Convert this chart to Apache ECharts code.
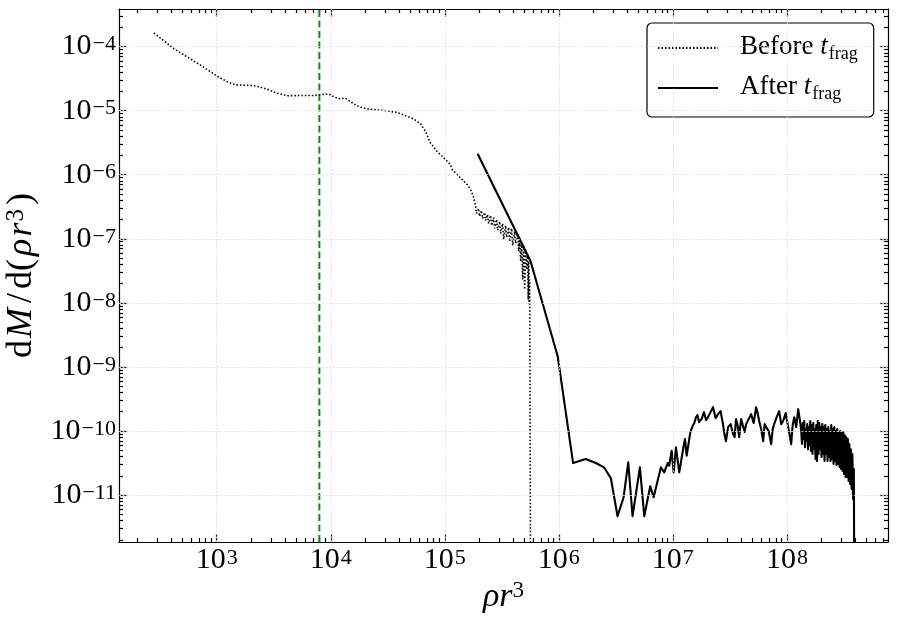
<!DOCTYPE html>
<html>
<head>
<meta charset="utf-8">
<script src="https://cdn.jsdelivr.net/npm/echarts@6/dist/echarts.min.js"></script>
<style>
  html, body { margin: 0; padding: 0; background: #fff; }
  #chart { width: 897px; height: 621px; }
</style>
</head>
<body>
<div id="chart"></div>
<script>
// [rho r^3, dM/d(rho r^3)] before t_frag (dotted)
var beforeFrag = [
  [281, 1.63e-4], [416, 9.4e-5], [713, 5.19e-5], [1000, 3.5e-5], [1224, 2.85e-5],
  [1449, 2.53e-5], [2099, 2.47e-5], [2400, 2.33e-5], [2748, 2.17e-5], [3365, 1.88e-5],
  [4121, 1.71e-5], [5395, 1.72e-5], [7063, 1.72e-5], [8090, 1.77e-5], [9572, 1.82e-5],
  [10590, 1.66e-5], [11720, 1.53e-5], [13400, 1.57e-5], [14830, 1.39e-5], [16980, 1.19e-5],
  [20790, 1.06e-5], [29120, 1.01e-5], [38170, 9.37e-6], [45180, 8.34e-6], [53460, 7.4e-6],
  [61150, 6.25e-6], [67640, 4.75e-6], [74800, 3.13e-6], [85620, 2.31e-6], [97980, 1.83e-6],
  [112200, 1.44e-6], [116100, 1.2e-6], [142200, 8.4e-7], [157400, 7.02e-7], [168300, 5.86e-7],
  [177700, 4.61e-7],
  [1.862e5, 3.30e-7], [1.900e5, 2.48e-7], [1.978e5, 2.96e-7], [2.018e5, 2.23e-7],
  [2.101e5, 2.76e-7], [2.144e5, 2.07e-7], [2.233e5, 2.57e-7], [2.278e5, 1.93e-7],
  [2.373e5, 2.39e-7], [2.421e5, 1.73e-7], [2.521e5, 2.31e-7], [2.573e5, 1.61e-7],
  [2.679e5, 2.15e-7], [2.734e5, 1.45e-7], [2.847e5, 2.00e-7], [2.905e5, 1.35e-7],
  [3.025e5, 1.86e-7], [3.087e5, 1.21e-7], [3.214e5, 1.73e-7], [3.280e5, 9.75e-8],
  [3.415e5, 1.61e-7], [3.485e5, 1.05e-7], [3.629e5, 1.50e-7], [3.703e5, 9.08e-8],
  [3.856e5, 1.45e-7], [3.935e5, 7.86e-8], [4.097e5, 1.30e-7], [4.181e5, 8.45e-8],
  [4.354e5, 1.21e-7], [4.443e5, 6.34e-8], [4.534e5, 1.05e-7], [4.627e5, 4.43e-8],
  [4.721e5, 9.08e-8], [4.818e5, 2.32e-8], [4.917e5, 7.86e-8], [5.017e5, 1.62e-8],
  [5.120e5, 6.81e-8], [5.224e5, 3.32e-8], [5.331e5, 5.69e-8], [5.385e5, 1.13e-8],
  [5.440e5, 4.43e-8], [5.495e5, 9.48e-9], [5.551e5, 2.32e-8], [5.665e5, 1e-13]
];

// after t_frag (solid)
var afterFrag = [
  [1.94e5, 2.13e-6], [5.66e5, 4.43e-8], [9.77e5, 1.47e-9], [1.334e6, 3.16e-11],
  [1.72e6, 3.65e-11], [2.11e6, 3.16e-11], [2.49e6, 2.71e-11], [2.86e6, 1.83e-11],
  [3.27e6, 4.68e-12], [3.70e6, 9.24e-12], [4.06e6, 3.24e-11], [4.43e6, 4.68e-12],
  [5.14e6, 2.71e-11], [5.61e6, 4.68e-12], [6.33e6, 1.37e-11], [6.78e6, 9.24e-12],
  [7.86e6, 2.71e-11], [8.40e6, 2.26e-11], [9.0e6, 3.16e-11], [9.29e6, 2.87e-11],
  [9.75e6, 4.92e-11], [1.016e7, 2.26e-11], [1.064e7, 5.56e-11], [1.137e7, 2.26e-11],
  [1.244e7, 5.88e-11], [1.277e7, 7.48e-11], [1.321e7, 4.11e-11], [1.422e7, 9.5e-11],
  [1.492e7, 1.205e-10], [1.542e7, 1.33e-10], [1.596e7, 1.63e-10], [1.645e7, 1.77e-10],
  [1.695e7, 1.38e-10], [1.784e7, 1.53e-10], [1.875e7, 1.97e-10], [1.954e7, 1.48e-10],
  [2.03e7, 1.64e-10], [2.140e7, 1.97e-10], [2.25e7, 2.35e-10], [2.368e7, 1.59e-10],
  [2.49e7, 1.83e-10], [2.620e7, 2.04e-10], [2.75e7, 1.28e-10], [2.841e7, 8.63e-11],
  [2.92e7, 6.95e-11], [3.05e7, 1.15e-10], [3.208e7, 1.28e-10], [3.37e7, 8.95e-11],
  [3.478e7, 8.04e-11], [3.58e7, 1.53e-10], [3.695e7, 1.24e-10], [3.81e7, 8.04e-11],
  [3.967e7, 1.53e-10], [4.13e7, 1.43e-10], [4.259e7, 9.62e-11], [4.39e7, 1.28e-10],
  [4.617e7, 1.53e-10], [4.86e7, 1.83e-10], [5.109e7, 1.33e-10], [5.37e7, 2.35e-10],
  [5.539e7, 1.90e-10], [5.71e7, 1.43e-10], [5.946e7, 1.07e-10], [6.19e7, 6.95e-11],
  [6.383e7, 1.28e-10], [6.58e7, 1.15e-10], [6.920e7, 1.0e-10], [7.28e7, 6.24e-11],
  [7.504e7, 1.07e-10], [7.73e7, 1.28e-10], [8.137e7, 1.64e-10], [8.55e7, 2.04e-10],
  [8.913e7, 1.28e-10], [9.27e7, 1.43e-10], [9.761e7, 1.90e-10], [1.026e8, 1.15e-10],
  [1.058e8, 8.63e-11], [1.09e8, 6.24e-11], [1.124e8, 1.24e-10], [1.16e8, 1.64e-10],
  [1.207e8, 1.15e-10], [1.256e8, 2.19e-10], [1.296e8, 1.53e-10],
  [1.336e8, 1.0e-10], [1.356e8, 6.25e-11], [1.377e8, 1.33e-10], [1.398e8, 7.5e-11],
  [1.419e8, 1.43e-10], [1.441e8, 5.6e-11], [1.463e8, 1.07e-10], [1.485e8, 6.96e-11],
  [1.508e8, 1.28e-10], [1.531e8, 5.2e-11], [1.555e8, 1.15e-10], [1.579e8, 6.0e-11],
  [1.603e8, 1.43e-10], [1.627e8, 4.86e-11], [1.652e8, 1.24e-10], [1.677e8, 4.37e-11],
  [1.703e8, 1.33e-10], [1.729e8, 5.2e-11], [1.755e8, 1.07e-10], [1.782e8, 3.65e-11],
  [1.809e8, 1.24e-10], [1.837e8, 3.4e-11], [1.865e8, 1.43e-10], [1.893e8, 4.37e-11],
  [1.922e8, 1.33e-10], [1.952e8, 5.2e-11], [1.982e8, 1.15e-10], [2.012e8, 3.92e-11],
  [2.043e8, 1.28e-10], [2.074e8, 4.37e-11], [2.106e8, 1.15e-10], [2.138e8, 3.4e-11],
  [2.171e8, 1.24e-10], [2.204e8, 4.37e-11], [2.237e8, 1.07e-10], [2.272e8, 3.4e-11],
  [2.306e8, 1.15e-10], [2.342e8, 3.92e-11], [2.378e8, 1.0e-10], [2.414e8, 3.4e-11],
  [2.451e8, 1.24e-10], [2.488e8, 3.65e-11], [2.526e8, 1.07e-10], [2.565e8, 3.05e-11],
  [2.604e8, 1.15e-10], [2.644e8, 3.4e-11], [2.685e8, 1.0e-10], [2.726e8, 2.94e-11],
  [2.767e8, 1.07e-10], [2.810e8, 3.05e-11], [2.853e8, 9.3e-11], [2.896e8, 2.75e-11],
  [2.941e8, 1.0e-10], [2.986e8, 2.55e-11], [3.031e8, 9.3e-11], [3.078e8, 2.37e-11],
  [3.125e8, 9.6e-11], [3.173e8, 2.13e-11], [3.221e8, 8.6e-11], [3.270e8, 1.91e-11],
  [3.320e8, 8.0e-11], [3.371e8, 1.91e-11], [3.423e8, 7.5e-11], [3.475e8, 1.66e-11],
  [3.528e8, 6.25e-11], [3.582e8, 1.49e-11], [3.637e8, 5.2e-11], [3.693e8, 1.25e-11],
  [3.749e8, 4.37e-11], [3.806e8, 8.7e-12], [3.865e8, 2.55e-11], [3.904e8, 1e-13]
];

var tFrag = 7943;              // green dashed line position
var xRange = [139, 7.7e8];
var yRange = [1.85e-12, 3.86e-4];
var xDecades = [2, 3, 4, 5, 6, 7, 8];
var yDecades = [-12, -11, -10, -9, -8, -7, -6, -5, -4];

function majors(dec, r) {
  return dec.map(function (n) { return Math.pow(10, n); })
    .filter(function (v) { return v >= r[0] && v <= r[1]; });
}
function minors(dec, r) {
  var out = [];
  dec.forEach(function (n) {
    for (var k = 2; k <= 9; k++) {
      var v = k * Math.pow(10, n);
      if (v > r[0] && v < r[1]) out.push(v);
    }
  });
  return out;
}
var xMajor = majors(xDecades, xRange), xMinor = minors(xDecades, xRange);
var yMajor = majors(yDecades, yRange), yMinor = minors(yDecades, yRange);

var FONT = '"Liberation Serif", "DejaVu Serif", serif';
var tickRich = {
  b: { fontFamily: FONT, fontSize: 30, lineHeight: 30, color: '#000', verticalAlign: 'bottom' },
  e: { fontFamily: FONT, fontSize: 22, lineHeight: 22, color: '#000', verticalAlign: 'top', padding: [2, 0, 0, 1] }
};
function powLabel(v) {
  var n = Math.round(Math.log10(v));
  return '{b|10}{e|' + (n < 0 ? '\u2212' + (-n) : n) + '}';
}

var black = { color: '#000', width: 1.2 };
var gridStyle = { color: '#dedede', width: 0.8, type: [2, 1.5] };

function axis(kind, pos, ticks, len, labels, line) {
  var r = kind === 'x' ? xRange : yRange;
  return {
    type: 'log', position: pos, min: r[0], max: r[1],
    axisLine: { show: line, onZero: false, lineStyle: black },
    axisTick: { show: true, inside: true, length: len, customValues: ticks, lineStyle: black },
    axisLabel: labels ? { show: true, customValues: ticks, formatter: powLabel, rich: tickRich, margin: 3 } : { show: false },
    splitLine: { show: false },
    minorTick: { show: false }
  };
}

var xAxes = [
  axis('x', 'bottom', xMajor, 8, true, true),
  axis('x', 'bottom', xMinor, 4, false, false),
  axis('x', 'top', xMajor, 8, false, true),
  axis('x', 'top', xMinor, 4, false, false)
];
xAxes[0].name = '{i|\u03c1r}{e|3}';
xAxes[0].nameLocation = 'middle';
xAxes[0].nameGap = 36;
xAxes[0].nameTextStyle = {
  rich: {
    i: { fontFamily: FONT, fontStyle: 'italic', fontSize: 34, lineHeight: 34, color: '#000', verticalAlign: 'bottom' },
    e: { fontFamily: FONT, fontSize: 23, lineHeight: 23, color: '#000', verticalAlign: 'top' }
  }
};

var yAxes = [
  axis('y', 'left', yMajor, 8, true, true),
  axis('y', 'left', yMinor, 4, false, false),
  axis('y', 'right', yMajor, 8, false, true),
  axis('y', 'right', yMinor, 4, false, false)
];
yAxes[0].name = '{r|d}{m|M}{r|/}{r|d(}{i|\u03c1}{i|r}{e|3}{r|)}';
yAxes[0].nameLocation = 'middle';
yAxes[0].nameRotate = 90;
yAxes[0].nameGap = 73;
var nameBase = { fontFamily: FONT, fontSize: 36, lineHeight: 36, color: '#000', verticalAlign: 'bottom' };
yAxes[0].nameTextStyle = {
  rich: {
    r: Object.assign({}, nameBase, { padding: [0, 2, 0, 2] }),
    m: Object.assign({}, nameBase, { fontStyle: 'italic', padding: [0, 3, 0, 0] }),
    i: Object.assign({}, nameBase, { fontStyle: 'italic', padding: [0, 1, 0, 1] }),
    e: { fontFamily: FONT, fontSize: 25, lineHeight: 25, color: '#000', verticalAlign: 'top', padding: [0, 2, 0, 0] }
  }
};

// light grid at the decades: vertical by xAxis value, horizontal by end points
var xIn = [xRange[0] * 1.001, xRange[1] / 1.001];
var gridMarks = xMajor.map(function (v) { return { xAxis: v }; })
  .concat(yMajor.map(function (v) { return [{ coord: [xIn[0], v] }, { coord: [xIn[1], v] }]; }));

var chart = echarts.init(document.getElementById('chart'), null, { renderer: 'canvas' });
chart.setOption({
  animation: false,
  backgroundColor: '#fff',
  grid: { left: 119, right: 9, top: 9, bottom: 79, outerBoundsMode: 'none', containLabel: false },
  xAxis: xAxes,
  yAxis: yAxes,
  legend: {
    orient: 'vertical', left: 647, top: 23,
    padding: [8, 16, 14, 10], itemGap: 8,
    itemWidth: 60, itemHeight: 14,
    backgroundColor: '#fff', borderColor: '#000', borderWidth: 1.2, borderRadius: 5,
    itemStyle: { opacity: 0 },
    data: ['Before', 'After'],
    formatter: function (name) { return '{n|' + name + ' }{t|t}{s|frag}'; },
    textStyle: {
      rich: {
        n: { fontFamily: FONT, fontSize: 27, lineHeight: 30, color: '#000', verticalAlign: 'top', padding: [0, 0, 0, 17] },
        t: { fontFamily: FONT, fontStyle: 'italic', fontSize: 27, lineHeight: 30, color: '#000', verticalAlign: 'top' },
        s: { fontFamily: FONT, fontSize: 18, lineHeight: 18, color: '#000', verticalAlign: 'bottom', padding: [14, 0, 0, 1] }
      }
    }
  },
  series: [
    {
      name: 't_frag', type: 'line', xAxisIndex: 0, yAxisIndex: 0, z: 1,
      data: [[tFrag, yRange[0]], [tFrag, yRange[1]]],
      symbol: 'none', showSymbol: false, silent: true,
      lineStyle: { color: '#138a13', width: 2, type: [7, 3.5] },
      markLine: {
        silent: true, symbol: 'none', animation: false,
        label: { show: false },
        lineStyle: gridStyle,
        data: gridMarks
      }
    },
    {
      name: 'Before', type: 'line', xAxisIndex: 0, yAxisIndex: 0, z: 3,
      data: beforeFrag, symbol: 'none', showSymbol: false,
      itemStyle: { color: '#000' },
      lineStyle: { color: '#000', width: 1.6, type: [1.5, 2] }
    },
    {
      name: 'After', type: 'line', xAxisIndex: 0, yAxisIndex: 0, z: 3,
      data: afterFrag, symbol: 'none', showSymbol: false,
      itemStyle: { color: '#000' },
      lineStyle: { color: '#000', width: 2.1, join: 'round' }
    }
  ]
});
</script>
</body>
</html>
